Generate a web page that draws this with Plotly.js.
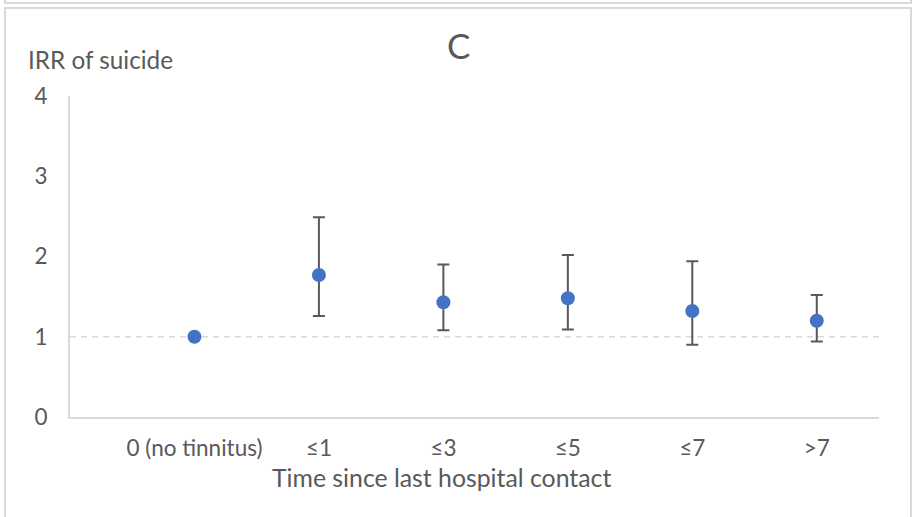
<!DOCTYPE html>
<html>
<head>
<meta charset="utf-8">
<script src="https://cdn.plot.ly/plotly-3.0.1.min.js"></script>
<style>
  html, body { margin: 0; padding: 0; background: #ffffff; overflow: hidden; }
  #chart { position: absolute; left: 0; top: 0; width: 913px; height: 517px; }
  .frame { position: absolute; border: 2px solid #d9d9d9; pointer-events: none; z-index: 10; }
</style>
</head>
<body>
<div id="chart"></div>
<div class="frame" style="left:4px; top:-30px; width:904px; height:30px;"></div>
<div class="frame" style="left:4px; top:7px; width:904px; height:540px;"></div>
<script>
// ---- data ----
const categories = ['0 (no tinnitus)', '≤1', '≤3', '≤5', '≤7', '>7'];
const irr        = [1.00, 1.77, 1.43, 1.48, 1.32, 1.20];
const ciUpper    = [1.00, 2.49, 1.90, 2.02, 1.94, 1.52];
const ciLower    = [1.00, 1.26, 1.08, 1.09, 0.90, 0.94];
const refValue   = 1;
const yTicks     = [0, 1, 2, 3, 4];

const FONT = 'Lato, "Open Sans", sans-serif';
const TXT = '#595959';

const errPlus  = ciUpper.map((u, i) => u - irr[i]);
const errMinus = irr.map((v, i) => v - ciLower[i]);

const trace = {
  type: 'scatter',
  mode: 'markers',
  x: categories,
  y: irr,
  marker: { color: '#4472C4', size: 14 },
  error_y: {
    type: 'data', symmetric: false,
    array: errPlus, arrayminus: errMinus,
    color: '#595959', thickness: 2, width: 6
  },
  hoverinfo: 'x+y',
  showlegend: false
};

const layout = {
  width: 913, height: 517,
  margin: { l: 70, r: 34, t: 96, b: 100 },
  paper_bgcolor: '#ffffff', plot_bgcolor: '#ffffff',
  font: { family: FONT, color: TXT },
  xaxis: {
    type: 'category',
    range: [-1, categories.length - 0.5],
    showgrid: false, zeroline: false,
    showline: true, linecolor: '#d9d9d9', linewidth: 2,
    ticks: '', ticklabelstandoff: 10,
    tickfont: { family: FONT, size: 22.5, color: TXT },
    fixedrange: true
  },
  yaxis: {
    range: [0, 4],
    tickvals: yTicks,
    showgrid: false, zeroline: false,
    showline: true, linecolor: '#d9d9d9', linewidth: 2,
    ticks: '', ticklabelstandoff: 16,
    tickfont: { family: FONT, size: 22.5, color: TXT },
    fixedrange: true
  },
  shapes: [{
    type: 'line', xref: 'paper', yref: 'y',
    x0: 0, x1: 1, y0: refValue, y1: refValue,
    line: { color: '#d9d9d9', width: 1.5, dash: '6px,5px' },
    layer: 'below'
  }],
  annotations: [
    { text: 'C', xref: 'paper', yref: 'paper', x: (458 - 70) / 809, y: 1 + (96 - 45) / 321,
      xanchor: 'center', yanchor: 'middle', showarrow: false,
      font: { family: FONT, size: 35, color: TXT } },
    { text: 'IRR of suicide', xref: 'paper', yref: 'paper', x: (26 - 70) / 809, y: 1 + (96 - 60) / 321,
      xanchor: 'left', yanchor: 'middle', showarrow: false,
      font: { family: FONT, size: 24.3, color: TXT } },
    { text: 'Time since last hospital contact', xref: 'paper', yref: 'paper', x: (441 - 70) / 809, y: -(477 - 417) / 321,
      xanchor: 'center', yanchor: 'middle', showarrow: false,
      font: { family: FONT, size: 24.8, color: TXT } }
  ]
};

Plotly.newPlot('chart', [trace], layout, { displayModeBar: false, staticPlot: true });
</script>
</body>
</html>
